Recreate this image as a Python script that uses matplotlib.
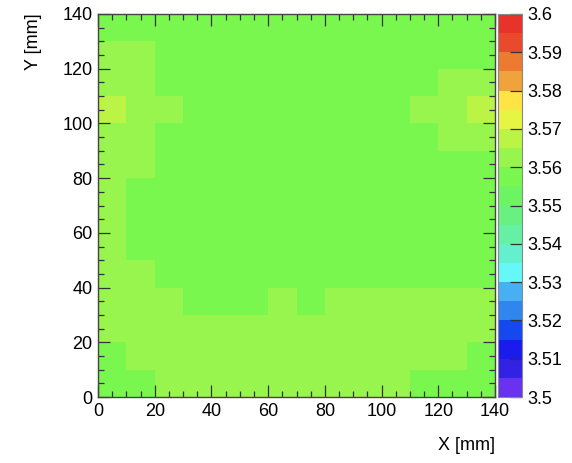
import numpy as np
import matplotlib
matplotlib.use("Agg")
import matplotlib.pyplot as plt
from matplotlib.colors import ListedColormap, BoundaryNorm
from matplotlib.ticker import MultipleLocator, FormatStrFormatter

plt.rcParams["font.family"] = ["Liberation Sans", "DejaVu Sans"]

# bin edges in mm
x_edges = [0, 10, 20, 30, 40, 50, 60, 70, 80, 90, 100, 110, 120, 130, 140]
y_edges = [0, 10, 20, 30, 40, 50, 60, 70, 80, 90, 100, 110, 120, 130, 140]

# cell values, row 0 = bottom (y 0-10), column 0 = left (x 0-10)
row_00 = [3.557, 3.557, 3.562, 3.562, 3.562, 3.562, 3.562, 3.562, 3.562, 3.562, 3.562, 3.557, 3.557, 3.557]
row_01 = [3.557, 3.562, 3.562, 3.562, 3.562, 3.562, 3.562, 3.562, 3.562, 3.562, 3.562, 3.562, 3.562, 3.557]
row_02 = [3.562, 3.562, 3.562, 3.562, 3.562, 3.562, 3.562, 3.562, 3.562, 3.562, 3.562, 3.562, 3.562, 3.562]
row_03 = [3.562, 3.562, 3.562, 3.557, 3.557, 3.557, 3.562, 3.557, 3.562, 3.562, 3.562, 3.562, 3.562, 3.562]
row_04 = [3.562, 3.562, 3.557, 3.557, 3.557, 3.557, 3.557, 3.557, 3.557, 3.557, 3.557, 3.557, 3.557, 3.557]
row_05 = [3.562, 3.557, 3.557, 3.557, 3.557, 3.557, 3.557, 3.557, 3.557, 3.557, 3.557, 3.557, 3.557, 3.557]
row_06 = [3.562, 3.557, 3.557, 3.557, 3.557, 3.557, 3.557, 3.557, 3.557, 3.557, 3.557, 3.557, 3.557, 3.557]
row_07 = [3.562, 3.557, 3.557, 3.557, 3.557, 3.557, 3.557, 3.557, 3.557, 3.557, 3.557, 3.557, 3.557, 3.557]
row_08 = [3.562, 3.562, 3.557, 3.557, 3.557, 3.557, 3.557, 3.557, 3.557, 3.557, 3.557, 3.557, 3.557, 3.557]
row_09 = [3.562, 3.562, 3.557, 3.557, 3.557, 3.557, 3.557, 3.557, 3.557, 3.557, 3.557, 3.557, 3.562, 3.562]
row_10 = [3.567, 3.562, 3.562, 3.557, 3.557, 3.557, 3.557, 3.557, 3.557, 3.557, 3.557, 3.562, 3.562, 3.567]
row_11 = [3.562, 3.562, 3.557, 3.557, 3.557, 3.557, 3.557, 3.557, 3.557, 3.557, 3.557, 3.557, 3.562, 3.562]
row_12 = [3.562, 3.562, 3.557, 3.557, 3.557, 3.557, 3.557, 3.557, 3.557, 3.557, 3.557, 3.557, 3.557, 3.557]
row_13 = [3.557, 3.557, 3.557, 3.557, 3.557, 3.557, 3.557, 3.557, 3.557, 3.557, 3.557, 3.557, 3.557, 3.557]

z_levels = [3.5 + 0.005 * i for i in range(21)]
cbar_ticks = [3.50, 3.51, 3.52, 3.53, 3.54, 3.55, 3.56, 3.57, 3.58, 3.59, 3.60]

# ROOT rainbow-like palette, bottom to top
palette = [
    "#6a32f0", "#3222e4", "#1a1cee", "#1648f0", "#2e86ee",
    "#48b0f2", "#66f8f8", "#64f0cc", "#66f0a4", "#68f080",
    "#6cf462", "#7af74e", "#98f54e", "#bcf446", "#e6f444",
    "#ffe445", "#f0a23c", "#ec7a30", "#ea4a2c", "#e8322a",
]

grid = np.array([row_00, row_01, row_02, row_03, row_04, row_05, row_06,
                 row_07, row_08, row_09, row_10, row_11, row_12, row_13])

W, H = 572, 463
fig = plt.figure(figsize=(W / 100, H / 100), dpi=100)
ax = fig.add_axes([98 / W, 1 - 397 / H, 397 / W, 383 / H])
cax = fig.add_axes([498 / W, 1 - 397 / H, 24 / W, 383 / H])

cmap = ListedColormap(palette)
norm = BoundaryNorm(z_levels, cmap.N)
mesh = ax.pcolormesh(x_edges, y_edges, grid, cmap=cmap, norm=norm)

ax.set_xlim(0, 140)
ax.set_ylim(0, 140)
ax.xaxis.set_major_locator(MultipleLocator(20))
ax.yaxis.set_major_locator(MultipleLocator(20))
ax.xaxis.set_minor_locator(MultipleLocator(5))
ax.yaxis.set_minor_locator(MultipleLocator(5))
ax.tick_params(which="both", direction="in", top=True, right=True,
               labelsize=13, colors="#333333", labelcolor="black")
ax.tick_params(which="major", length=8.6, width=0.9)
ax.tick_params(which="minor", length=4.3, width=0.9)
ax.tick_params(axis="x", pad=4)
ax.tick_params(axis="y", pad=4)
for s in ax.spines.values():
    s.set_color("#444444")
    s.set_linewidth(1.0)

cb = fig.colorbar(mesh, cax=cax, ticks=cbar_ticks)
cb.ax.yaxis.set_major_formatter(FormatStrFormatter("%g"))
cb.ax.minorticks_off()
cb.ax.tick_params(direction="in", length=8.6, width=0.9, labelsize=13,
                  pad=4, colors="#333333", labelcolor="black")
cb.outline.set_edgecolor("#888888")
cb.outline.set_linewidth(0.8)

fig.text(495 / W, 1 - 446 / H, "X [mm]", ha="right", va="center", fontsize=13)
fig.text(33 / W, 1 - 13 / H, "Y [mm]", ha="center", va="top", rotation=90, fontsize=13)

fig.savefig("out.png", dpi=100)
